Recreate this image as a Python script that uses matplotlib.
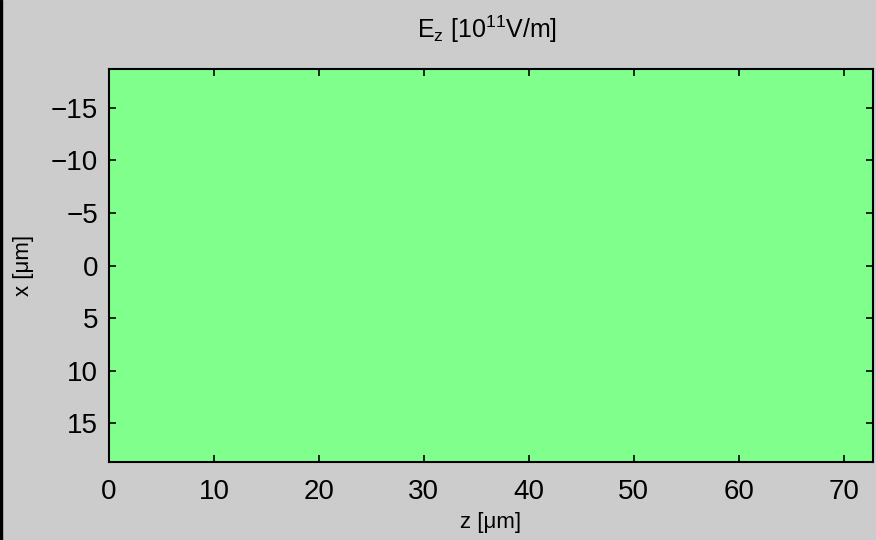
import numpy as np
import matplotlib.pyplot as plt
from matplotlib.colors import ListedColormap
from matplotlib.patches import Rectangle

plt.rcParams['font.family'] = ['Liberation Sans', 'DejaVu Sans']
plt.rcParams['mathtext.default'] = 'regular'

# field values on the grid (all zero here)
z_edges = [0.0, 72.8]
x_edges = [-18.7, 18.7]
ez = np.array([[0.0]])

xticks = [0, 10, 20, 30, 40, 50, 60, 70]
yticks = [-15, -10, -5, 0, 5, 10, 15]

fig = plt.figure(figsize=(8.76, 5.40), dpi=100, facecolor='#cccccc')
fig.patches.append(Rectangle((0, 0), 2 / 876, 1, transform=fig.transFigure,
                             color='black', zorder=10))
ax = fig.add_axes([109 / 876, 1 - 462 / 540, (873 - 109) / 876, (462 - 69) / 540])
ax.pcolormesh(z_edges, x_edges, ez, cmap=ListedColormap(['#80ff8c']), vmin=-1, vmax=1)
ax.set_xlim(0, 72.8)
ax.set_ylim(18.7, -18.7)
ax.set_xticks(xticks)
ax.set_yticks(yticks)
ax.tick_params(direction='in', length=5, width=1.2, top=True, right=True,
               labelsize=20, colors='black')
ax.tick_params(axis='x', pad=12)
ax.tick_params(axis='y', pad=8)
for s in ax.spines.values():
    s.set_linewidth(1.5)
ax.set_xlabel('z [\u03bcm]', fontsize=16, labelpad=5)
ax.set_ylabel('x [\u03bcm]', fontsize=16, labelpad=12)
ax.set_title(r'E$_z$ [10$^{11}$V/m]', fontsize=18, pad=22, x=0.495)
fig.savefig('out.png', dpi=100, facecolor=fig.get_facecolor())
